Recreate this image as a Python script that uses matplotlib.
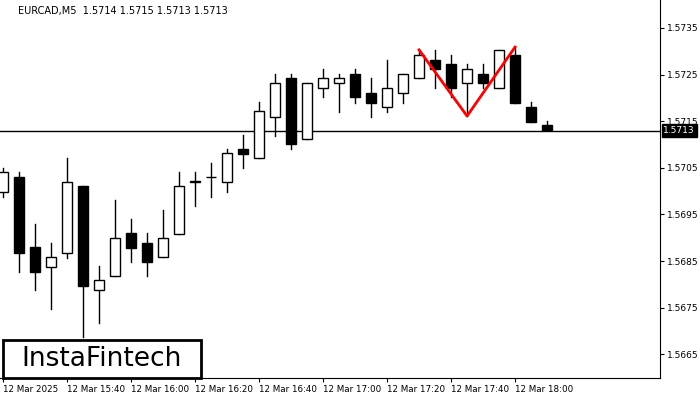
import matplotlib
matplotlib.use("Agg")
import matplotlib.pyplot as plt
from matplotlib.patches import Rectangle

opens  = [1.56998,1.57030,1.56880,1.56837,1.56867,1.57011,1.56788,1.56818,1.56910,1.56889,
          1.56859,1.56908,1.57020,1.57030,1.57020,1.57090,1.57071,1.57159,1.57243,1.57112,
          1.57221,1.57232,1.57251,1.57211,1.57180,1.57211,1.57243,1.57281,1.57273,1.57232,
          1.57251,1.57221,1.57292,1.57180,1.57142]
highs  = [1.57050,1.57041,1.56929,1.56889,1.57071,1.57011,1.56839,1.56981,1.56940,1.56910,
          1.56959,1.57041,1.57041,1.57060,1.57090,1.57120,1.57191,1.57251,1.57251,1.57232,
          1.57262,1.57251,1.57262,1.57243,1.57281,1.57251,1.57303,1.57303,1.57292,1.57273,
          1.57273,1.57303,1.57309,1.57191,1.57150]
lows   = [1.56987,1.56826,1.56788,1.56747,1.56856,1.56687,1.56717,1.56818,1.56848,1.56818,
          1.56859,1.56908,1.56968,1.56987,1.56998,1.57050,1.57071,1.57118,1.57090,1.57112,
          1.57202,1.57170,1.57189,1.57159,1.57170,1.57189,1.57243,1.57221,1.57202,1.57161,
          1.57221,1.57221,1.57189,1.57148,1.57131]
closes = [1.57041,1.56867,1.56826,1.56859,1.57020,1.56796,1.56809,1.56899,1.56878,1.56848,
          1.56899,1.57011,1.57020,1.57030,1.57082,1.57080,1.57172,1.57232,1.57101,1.57232,
          1.57243,1.57243,1.57202,1.57189,1.57221,1.57251,1.57292,1.57262,1.57221,1.57262,
          1.57232,1.57303,1.57189,1.57148,1.57131]
pattern_x = [26, 29, 32]
pattern_y = [1.57303, 1.57161, 1.57309]
last_price = 1.5713
yticks = [1.5665, 1.5675, 1.5685, 1.5695, 1.5705, 1.5715, 1.5725, 1.5735]
xtick_pos = [0, 4, 8, 12, 16, 20, 24, 28, 32]
xtick_labels = ["12 Mar 2025", "12 Mar 15:40", "12 Mar 16:00", "12 Mar 16:20", "12 Mar 16:40",
                "12 Mar 17:00", "12 Mar 17:20", "12 Mar 17:40", "12 Mar 18:00"]

fig = plt.figure(figsize=(7, 4), dpi=100)
ax = fig.add_axes([0, 22/400, 660/700, 378/400])
ax.set_xlim(-0.19, 41.06)
ax.set_ylim(1.56599, 1.57410)

w = 0.6
for i, (o, h, l, c) in enumerate(zip(opens, highs, lows, closes)):
    ax.plot([i, i], [l, h], color="black", lw=1, zorder=2)
    lo, hi = min(o, c), max(o, c)
    face = "white" if c >= o else "black"
    ax.add_patch(Rectangle((i - w/2, lo), w, max(hi - lo, 0.000006), facecolor=face,
                           edgecolor="black", lw=1, zorder=3))

ax.axhline(last_price, color="black", lw=1, zorder=1)
ax.plot(pattern_x, pattern_y, color="red", lw=2, zorder=4)

ax.yaxis.tick_right()
ax.set_yticks(yticks)
ax.set_yticklabels([f"{v:.4f}" for v in yticks], fontsize=6.5)
ax.set_xticks(xtick_pos)
ax.set_xticklabels(xtick_labels, fontsize=6.3, ha="left")
ax.tick_params(axis="both", length=3, pad=2)
for s in ["top", "left"]:
    ax.spines[s].set_visible(False)

ax.text(1.005, (last_price - 1.56599) / (1.57410 - 1.56599), f"{last_price:.4f}",
        transform=ax.transAxes, fontsize=6.5, color="white", va="center", ha="left",
        bbox=dict(facecolor="black", edgecolor="black", pad=1.2), zorder=10, clip_on=False)

ax.text(0.027, 0.985, "EURCAD,M5  1.5714 1.5715 1.5713 1.5713", transform=ax.transAxes,
        fontsize=7, va="top", ha="left")

fig.add_artist(Rectangle((3/700, 1 - 378/400), 198/700, 38/400, transform=fig.transFigure,
                         facecolor="white", edgecolor="black", lw=2, zorder=20))
fig.text(102/700, 1 - 359/400, "InstaFintech", fontsize=19, va="center", ha="center", zorder=21)

fig.savefig("out.png", dpi=100)
